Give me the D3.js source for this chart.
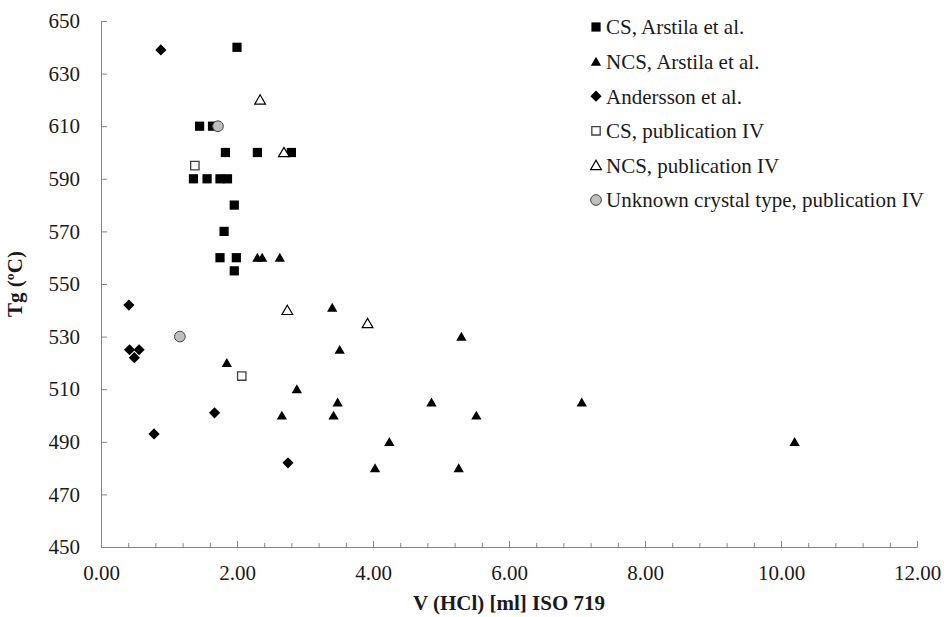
<!DOCTYPE html>
<html>
<head>
<meta charset="utf-8">
<script src="https://d3js.org/d3.v7.min.js"></script>
<style>
  body { margin: 0; background: #fff; }
  svg text { font-family: 'Liberation Serif', 'DejaVu Serif', serif; fill: #1a1a1a; }
</style>
</head>
<body>
<div id="chart"></div>
<script>
  // values: x = V (HCl) ml, y = Tg (ºC)
  var csArstilaX  = [2.00, 1.45, 1.64, 1.83, 2.30, 2.80, 1.36, 1.56, 1.75, 1.86, 1.96, 1.81, 1.75, 1.99, 1.96];
  var csArstilaY  = [640, 610, 610, 600, 600, 600, 590, 590, 590, 590, 580, 570, 560, 560, 555];

  var ncsArstilaX = [2.30, 2.37, 2.63, 3.40, 3.51, 5.30, 1.85, 2.88, 2.66, 3.42, 3.48, 4.86, 5.52, 7.07, 4.24, 10.20, 4.03, 5.26];
  var ncsArstilaY = [560, 560, 560, 541, 525, 530, 520, 510, 500, 500, 505, 505, 500, 505, 490, 490, 480, 480];

  var anderssonX  = [0.88, 0.41, 0.42, 0.56, 0.49, 1.67, 0.78, 2.75];
  var anderssonY  = [639, 542, 525, 525, 522, 501, 493, 482];

  var csPubX      = [1.38, 2.07];
  var csPubY      = [595, 515];

  var ncsPubX     = [2.34, 2.69, 2.74, 3.92];
  var ncsPubY     = [620, 600, 540, 535];

  var unknownX    = [1.72, 1.16];
  var unknownY    = [610, 530];

  var seriesNames = ["CS, Arstila et al.", "NCS, Arstila et al.", "Andersson et al.",
                     "CS, publication IV", "NCS, publication IV", "Unknown crystal type, publication IV"];

  var xTicks = [0, 2, 4, 6, 8, 10, 12];
  var yTicks = [450, 470, 490, 510, 530, 550, 570, 590, 610, 630, 650];

  var W = 944, H = 617;
  var margin = { top: 21, right: 27, bottom: 70, left: 101 },
    width = W - margin.left - margin.right,
    height = H - margin.top - margin.bottom;

  var svg = d3.select("#chart").append("svg")
    .attr("width", W)
    .attr("height", H);

  var g = svg.append("g")
    .attr("transform", "translate(" + margin.left + "," + margin.top + ")");

  var x = d3.scaleLinear().domain([0, 12]).range([0, width]);
  var y = d3.scaleLinear().domain([450, 650]).range([height, 0]);

  var axisColor = "#868686";

  // Y axis: ticks point inward
  var yAxis = g.append("g")
    .call(d3.axisLeft(y).tickValues(yTicks).tickSize(-6).tickPadding(21).tickFormat(d3.format("d")));
  yAxis.select(".domain").attr("stroke", axisColor);
  yAxis.selectAll(".tick line").attr("stroke", axisColor);
  yAxis.selectAll("text").style("font-size", "21px").attr("fill", "#1a1a1a");

  // X axis minor ticks every 0.4
  var minor = d3.range(0, 12.01, 0.4);
  var xMinor = g.append("g")
    .attr("transform", "translate(0," + height + ")")
    .call(d3.axisBottom(x).tickValues(minor).tickSize(-4).tickFormat(""));
  xMinor.select(".domain").remove();
  xMinor.selectAll(".tick line").attr("stroke", axisColor);

  var xAxis = g.append("g")
    .attr("transform", "translate(0," + height + ")")
    .call(d3.axisBottom(x).tickValues(xTicks).tickSize(-6).tickPadding(18).tickFormat(d3.format(".2f")));
  xAxis.select(".domain").attr("stroke", axisColor);
  xAxis.selectAll(".tick line").attr("stroke", axisColor);
  xAxis.selectAll("text").style("font-size", "21px").attr("fill", "#1a1a1a");

  // axis titles
  svg.append("text")
    .attr("x", margin.left + width / 2)
    .attr("y", 610)
    .attr("text-anchor", "middle")
    .style("font-size", "21px")
    .style("font-weight", "bold")
    .text("V (HCl) [ml] ISO 719");

  svg.append("text")
    .attr("transform", "translate(22," + (margin.top + height / 2) + ") rotate(-90)")
    .attr("text-anchor", "middle")
    .style("font-size", "21px")
    .style("font-weight", "bold")
    .text("Tg (ºC)");

  // marker shapes
  var sq = d3.symbol().type(d3.symbolSquare).size(85)();
  var tri = d3.symbol().type(d3.symbolTriangle).size(46)();
  var dia = "M0,-5.6L5.6,0L0,5.6L-5.6,0Z";   // square turned 45 degrees
  var circ = d3.symbol().type(d3.symbolCircle).size(90)();
  var openTri = d3.symbol().type(d3.symbolTriangle).size(50)();

  var styles = [
    { path: sq, fill: "#000", stroke: "none", sw: 0 },
    { path: tri, fill: "#000", stroke: "none", sw: 0 },
    { path: dia, fill: "#000", stroke: "none", sw: 0 },
    { path: d3.symbol().type(d3.symbolSquare).size(70)(), fill: "#fff", stroke: "#404040", sw: 1.3 },
    { path: openTri, fill: "#fff", stroke: "#000", sw: 1.2 },
    { path: circ, fill: "#bfbfbf", stroke: "#404040", sw: 1 }
  ];

  function zip(xs, ys) {
    return xs.map(function (v, i) { return { x: v, y: ys[i] }; });
  }

  var series = [
    zip(csArstilaX, csArstilaY),
    zip(ncsArstilaX, ncsArstilaY),
    zip(anderssonX, anderssonY),
    zip(csPubX, csPubY),
    zip(ncsPubX, ncsPubY),
    zip(unknownX, unknownY)
  ];

  // triangles in d3 are centred on the centroid; shift to the bbox centre
  function offset(i) { return (i === 1 || i === 4) ? 1.1 : 0; }

  series.forEach(function (data, i) {
    var st = styles[i];
    g.selectAll(".s" + i)
      .data(data)
      .enter()
      .append("path")
      .attr("class", "s" + i)
      .attr("d", st.path)
      .attr("transform", function (d) { return "translate(" + x(d.x) + "," + (y(d.y) + offset(i)) + ")"; })
      .attr("fill", st.fill)
      .attr("stroke", st.stroke)
      .attr("stroke-width", st.sw);
  });

  // legend
  var legX = 596, legY = 27, legStep = 34.6;
  var leg = svg.append("g");
  seriesNames.forEach(function (name, i) {
    var st = styles[i];
    var row = leg.append("g")
      .attr("transform", "translate(" + legX + "," + (legY + i * legStep) + ")");
    row.append("path")
      .attr("d", st.path)
      .attr("transform", "translate(0," + offset(i) + ")")
      .attr("fill", st.fill)
      .attr("stroke", st.stroke)
      .attr("stroke-width", st.sw);
    row.append("text")
      .attr("x", 10)
      .attr("dy", "0.35em")
      .style("font-size", "21px")
      .text(name);
  });
</script>
</body>
</html>
